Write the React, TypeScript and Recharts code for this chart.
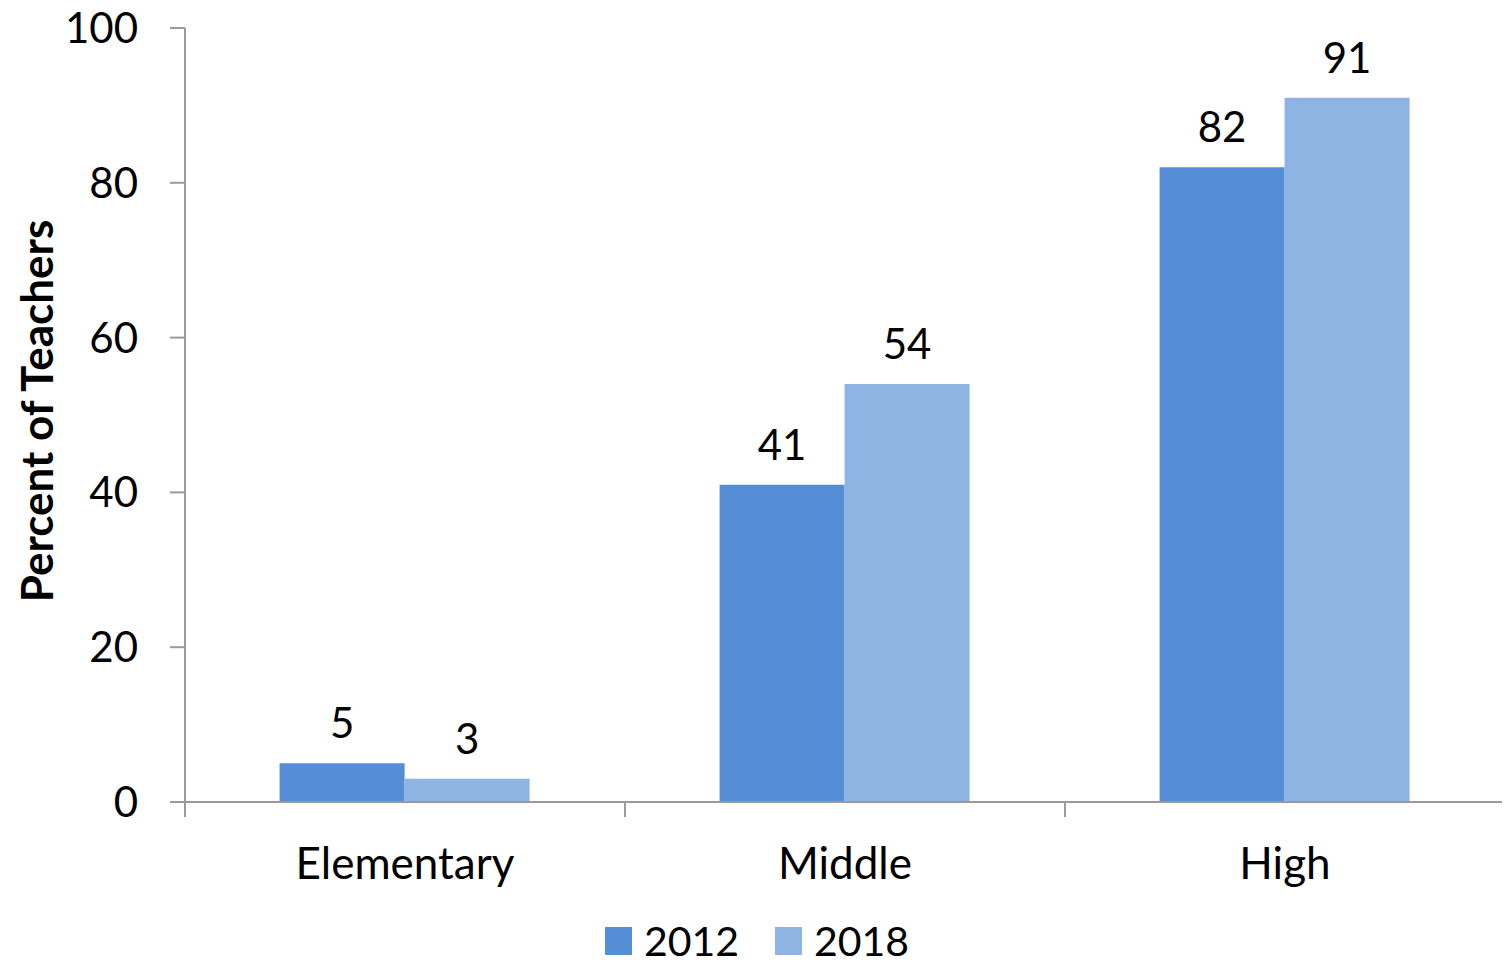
import React from 'react';
import { BarChart, Bar, XAxis, YAxis, LabelList, Legend } from 'recharts';

const categories = ['Elementary', 'Middle', 'High'];
const values2012 = [5, 41, 82];
const values2018 = [3, 54, 91];
const yTicks = [0, 20, 40, 60, 80, 100];
const seriesNames = ['2012', '2018'];
const seriesColors = ['#558ED5', '#8EB4E3'];

const data = categories.map((c, i) => ({ name: c, s2012: values2012[i], s2018: values2018[i] }));

const CHART_W = 1510;
const CHART_H = 964;
const MARGIN = { top: 28, right: 5, left: 0, bottom: 0 };
const Y_AXIS_W = 185;
const PLOT_W = CHART_W - MARGIN.left - MARGIN.right - Y_AXIS_W;
const HALF_BAND = PLOT_W / categories.length / 2;
const AXIS_COLOR = '#9A9A9A';
const FONT = 'Lato, "Open Sans", sans-serif';

const XTick = (props: any) => {
  const { x, y, payload, index } = props;
  const isLast = index === categories.length - 1;
  return (
    <g>
      <line x1={x - HALF_BAND} x2={x - HALF_BAND} y1={y} y2={y + 15} stroke={AXIS_COLOR} strokeWidth={2} />
      {isLast && (
        <line x1={x + HALF_BAND} x2={x + HALF_BAND} y1={y} y2={y + 15} stroke={AXIS_COLOR} strokeWidth={2} />
      )}
      <text x={x} y={y + 77} textAnchor="middle" fill="#000" fontSize={44} fontFamily={FONT}>
        {payload.value}
      </text>
    </g>
  );
};

const YLabel = (props: any) => {
  const vb = props.viewBox || {};
  const cx = 53;
  const cy = vb.y + vb.height / 2 - 4;
  return (
    <text
      x={cx}
      y={cy}
      textAnchor="middle"
      fontSize={44}
      fontWeight="bold"
      fontFamily={FONT}
      fill="#000"
      transform={`rotate(-90, ${cx}, ${cy})`}
    >
      Percent of Teachers
    </text>
  );
};

const LegendContent = () => (
  <div
    style={{
      display: 'flex',
      justifyContent: 'center',
      alignItems: 'center',
      height: 34,
      fontFamily: FONT,
      fontSize: 41,
      color: '#000',
      paddingLeft: 4,
    }}
  >
    {seriesNames.map((n, i) => (
      <div key={n} style={{ display: 'flex', alignItems: 'center', marginLeft: i === 0 ? 0 : 36 }}>
        <div style={{ width: 27, height: 28, background: seriesColors[i], marginRight: 12 }} />
        <span style={{ lineHeight: '34px' }}>{n}</span>
      </div>
    ))}
  </div>
);

export default function App() {
  return (
    <div style={{ width: CHART_W, height: CHART_H, margin: -8, fontFamily: FONT }}>
      <BarChart
        width={CHART_W}
        height={CHART_H}
        data={data}
        margin={MARGIN}
        barCategoryGap="21.5%"
        barGap={0}
      >
        <XAxis
          dataKey="name"
          height={122}
          axisLine={{ stroke: AXIS_COLOR, strokeWidth: 2 }}
          tickLine={false}
          tickSize={0}
          tickMargin={0}
          tick={<XTick />}
          interval={0}
        />
        <YAxis
          width={Y_AXIS_W}
          domain={[0, 100]}
          ticks={yTicks}
          interval={0}
          axisLine={{ stroke: AXIS_COLOR, strokeWidth: 2 }}
          tickLine={{ stroke: AXIS_COLOR, strokeWidth: 2 }}
          tickSize={15}
          tickMargin={32}
          tick={{ fill: '#000', fontSize: 42, fontFamily: FONT }}
          label={{ content: <YLabel /> }}
        />
        <Legend
          verticalAlign="bottom"
          height={40}
          content={<LegendContent />}
          wrapperStyle={{ left: 0, width: CHART_W, bottom: 0, height: 40 }}
        />
        <Bar dataKey="s2012" name={seriesNames[0]} fill={seriesColors[0]} isAnimationActive={false}>
          <LabelList dataKey="s2012" position="top" offset={25} fill="#000" fontSize={42} fontFamily={FONT} />
        </Bar>
        <Bar dataKey="s2018" name={seriesNames[1]} fill={seriesColors[1]} isAnimationActive={false}>
          <LabelList dataKey="s2018" position="top" offset={25} fill="#000" fontSize={42} fontFamily={FONT} />
        </Bar>
      </BarChart>
    </div>
  );
}
